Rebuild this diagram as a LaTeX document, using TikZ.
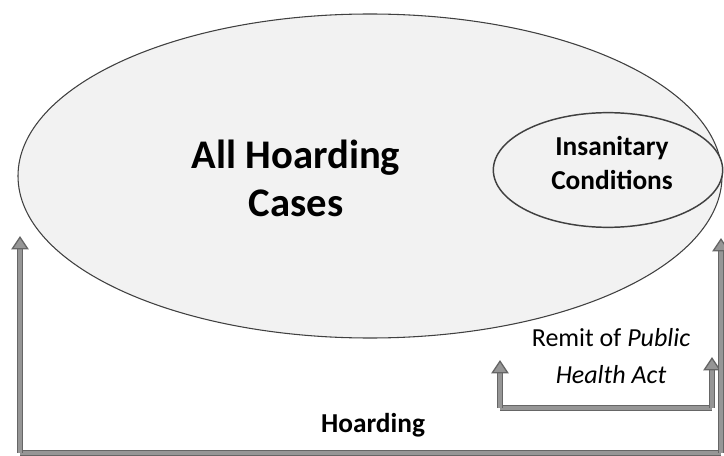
\documentclass[tikz,border=0pt]{standalone}
\usepackage{fontspec}
\setmainfont{Carlito}
\usepackage{tikz}
\usetikzlibrary{shapes.geometric, positioning, calc, arrows.meta}
\definecolor{cS}{RGB}{242,242,242}
\definecolor{cA}{RGB}{150,150,150}

\tikzset{
  setnode/.style={ellipse, draw=black!75, fill=cS, line width=0.8pt, inner sep=0pt},
  bigarrow/.style={draw=black!60, double=cA, double distance=2.6pt, line width=1pt,
    -{Triangle[length=10pt, width=13pt, fill=cA]}},
}

\begin{document}
\begin{tikzpicture}[x=0.75pt, y=-0.75pt]
    \useasboundingbox (0,0) rectangle (724,456);

    % Sets
    \node[setnode, minimum width=528pt, minimum height=243pt] (all) at (370,176) {};
    \node[setnode, line width=1.1pt, minimum width=172pt, minimum height=86pt] (ins) at (608,170) {};

    % Set labels
    \node[font=\bfseries\fontsize{30.5}{36}\selectfont, align=center] (alltxt) at (296,178) {All Hoarding\\Cases};
    \node[font=\bfseries\fontsize{20.5}{25}\selectfont, align=center] (instxt) at (612,163) {Insanitary\\Conditions};

    % Remit bracket
    \coordinate (rl) at (500,408);
    \coordinate (rr) at (712,408);
    \draw[bigarrow, -] (rl) -- (rr);
    \draw[bigarrow] (rl) -- (500,360);
    \draw[bigarrow] (rr) -- (712,357);
    \node[font=\fontsize{19.5}{28}\selectfont, align=center] (remit) at (611,356) {Remit of \textit{Public}\\\textit{Health Act}};

    % Hoarding bracket
    \coordinate (hl) at (20,453);
    \coordinate (hr) at (721,453);
    \draw[bigarrow, -] (hl) -- (hr);
    \draw[bigarrow] (hl) -- (20,236);
    \draw[bigarrow] (hr) -- (721,238);
    \node[font=\bfseries\fontsize{20.5}{25}\selectfont] (hoard) at (373,425) {Hoarding};
\end{tikzpicture}
\end{document}
